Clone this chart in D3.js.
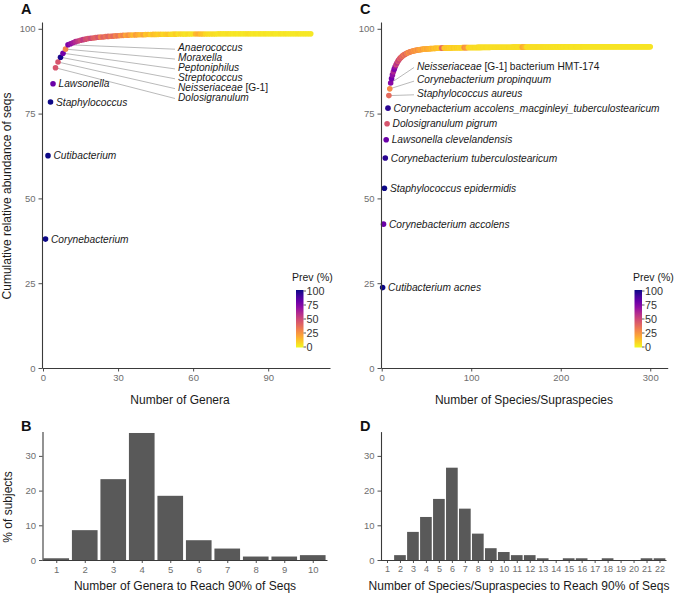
<!DOCTYPE html>
<html><head><meta charset="utf-8">
<script src="https://cdn.jsdelivr.net/npm/d3@7"></script>
<style>body{margin:0;background:#fff} svg{display:block} text{font-family:"Liberation Sans",Arial,Helvetica,sans-serif}</style>
</head><body><svg id="c" width="682" height="595"></svg>
<script>
// ---------------- DATA ----------------
const genusNames = ["Corynebacterium","Cutibacterium","Staphylococcus","Lawsonella","Dolosigranulum","Neisseriaceae [G-1]","Streptococcus","Peptoniphilus","Moraxella","Anaerococcus"];
const genusCum = [
38.0,62.6,78.4,83.8,88.5,90.2,91.6,92.8,94.0,95.3,
95.6,95.9,96.2,96.4,96.6,96.8,96.95,97.1,97.2,97.3,
97.4,97.5,97.55,97.6,97.7,97.75,97.8,97.85,97.9,97.95,
98.0,98.05,98.1,98.12,98.15,98.18,98.2,98.22,98.24,98.26,
98.28,98.3,98.32,98.34,98.35,98.36,98.37,98.38,98.39,98.4,
98.41,98.42,98.42,98.43,98.43,98.44,98.44,98.45,98.45,98.46,
98.46,98.46,98.47,98.47,98.47,98.48,98.48,98.48,98.48,98.49,
98.49,98.49,98.49,98.49,98.5,98.5,98.5,98.5,98.5,98.5,
98.5,98.5,98.5,98.5,98.5,98.5,98.5,98.5,98.5,98.5,
98.5,98.5,98.5,98.5,98.5,98.5,98.5,98.5,98.5,98.5,
98.5,98.5,98.5,98.5,98.5,98.5,98.5];
const genusPrev = [
100,100,100,80,45,45,98,78,30,75,
70,65,60,55,50,55,48,45,50,42,
40,45,32,40,35,40,33,38,30,35,
25,30,20,26,20,15,22,18,15,20,
12,15,10,14,12,10,12,8,10,12,
8,7,10,6,8,6,5,7,5,6,
15,18,14,12,8,7,6,7,6,5,
6,5,5,6,5,4,5,4,5,4,
5,6,5,4,5,4,5,4,5,4,
4,5,4,4,5,4,5,4,4,4,
4,5,4,4,4,4,4];

const speciesNames = ["Cutibacterium acnes","Corynebacterium accolens","Staphylococcus epidermidis","Corynebacterium tuberculostearicum","Lawsonella clevelandensis","Dolosigranulum pigrum","Corynebacterium accolens_macginleyi_tuberculostearicum","Staphylococcus aureus","Corynebacterium propinquum","Neisseriaceae [G-1] bacterium HMT-174"];
const speciesCum = [
23.7,42.4,53.0,61.9,67.3,72.0,76.6,80.3,82.3,84.0,
85.3,86.4,87.3,88.1,88.8,89.4,89.9,90.4,90.8,91.15,
91.45,91.7,91.95,92.15,92.35,92.5,92.65,92.8,92.92,93.03,
93.13,93.22,93.3,93.38,93.45,93.52,93.58,93.64,93.69,93.74,
93.78,93.82,93.86,93.9,93.93,93.96,93.99,94.02,94.04,94.06,
94.08,94.1,94.12,94.14,94.16,94.18,94.19,94.2,94.22,94.23,
94.24,94.25,94.26,94.27,94.28,94.29,94.3,94.31,94.32,94.33,
94.34,94.35,94.35,94.36,94.36,94.37,94.37,94.38,94.38,94.39,
94.39,94.4,94.4,94.41,94.41,94.42,94.42,94.43,94.43,94.44,
94.44,94.45,94.45,94.46,94.46,94.47,94.47,94.48,94.48,94.48,
94.49,94.49,94.49,94.5,94.5,94.5,94.51,94.51,94.51,94.51,
94.51,94.52,94.52,94.52,94.52,94.53,94.53,94.53,94.53,94.53,
94.53,94.54,94.54,94.54,94.54,94.55,94.55,94.55,94.55,94.55,
94.55,94.56,94.56,94.56,94.56,94.56,94.57,94.57,94.57,94.57,
94.57,94.57,94.57,94.57,94.57,94.58,94.58,94.58,94.58,94.58,
94.58,94.58,94.58,94.59,94.59,94.59,94.59,94.6,94.6,94.6,
94.6,94.6,94.6,94.61,94.61,94.61,94.61,94.61,94.62,94.62,
94.62,94.62,94.62,94.63,94.63,94.63,94.63,94.63,94.64,94.64,
94.64,94.64,94.64,94.65,94.65,94.65,94.65,94.65,94.65,94.65,
94.65,94.66,94.66,94.66,94.66,94.66,94.66,94.66,94.66,94.66,
94.66,94.67,94.67,94.67,94.67,94.67,94.67,94.67,94.67,94.67,
94.67,94.67,94.68,94.68,94.68,94.68,94.68,94.68,94.68,94.68,
94.68,94.68,94.68,94.68,94.69,94.69,94.69,94.69,94.69,94.69,
94.69,94.69,94.69,94.69,94.69,94.69,94.69,94.69,94.69,94.69,
94.7,94.7,94.7,94.7,94.7,94.7,94.7,94.7,94.7,94.7,
94.7,94.7,94.7,94.7,94.7,94.7,94.7,94.7,94.7,94.7,
94.7,94.7,94.7,94.7,94.7,94.7,94.7,94.7,94.7,94.7,
94.7,94.7,94.7,94.7,94.7,94.7,94.7,94.7,94.7,94.7,
94.7,94.7,94.7,94.7,94.7,94.7,94.7,94.7,94.7,94.7,
94.7,94.7,94.7,94.7,94.7,94.7,94.7,94.7,94.7,94.7];
const speciesPrev = [
100,80,100,95,80,45,95,38,28,72,
78,70,62,75,68,50,58,45,52,40,
45,42,35,42,30,38,40,30,35,25,
32,28,35,25,30,22,28,25,20,30,
22,25,18,22,20,25,18,20,15,22,
18,20,15,18,16,14,18,15,12,16,
14,12,15,12,10,14,35,40,30,12,
12,10,14,10,12,9,11,10,8,12,
10,8,9,11,8,10,7,9,8,10,
7,25,28,22,24,20,8,7,9,6,
8,6,7,8,6,7,6,8,6,7,
6,6,7,6,6,7,7,6,6,6,
6,7,6,6,6,7,6,6,7,6,
7,6,7,6,6,7,6,6,6,6,
6,7,6,6,6,6,6,7,6,6,
7,6,6,6,7,6,18,20,16,15,
12,7,6,6,7,6,6,7,6,6,
6,6,6,6,7,6,6,6,6,6,
6,6,6,5,6,6,5,6,6,5,
6,5,6,5,5,6,5,5,6,5,
5,6,5,5,5,6,5,5,5,5,
6,5,5,5,5,5,6,5,5,5,
5,5,5,5,6,5,5,5,5,5,
5,5,5,5,5,5,5,5,5,5,
5,5,5,5,5,5,5,5,5,5,
5,5,5,5,5,5,5,5,5,5,
5,5,5,5,5,5,5,5,5,5,
5,5,5,5,5,5,5,5,5,5,
5,5,5,5,5,5,5,5,5,5,
5,5,5,5,5,5,5,5,5,5];

const genusBins = [1,2,3,4,5,6,7,8,9,10];
const genusPct = [0.5,8.6,23.3,36.6,18.5,5.7,3.3,1.0,1.0,1.4];
const speciesBins = [1,2,3,4,5,6,7,8,9,10,11,12,13,14,15,16,17,18,19,20,21,22];
const speciesPct = [0,1.4,8.1,12.4,17.6,26.6,14.8,7.6,3.4,2.3,1.4,1.4,0.5,0,0.5,0.5,0,0.5,0,0,0.5,0.5];

const cumTicks = [0,25,50,75,100];
const genusTicks = [0,30,60,90];
const speciesTicks = [0,100,200,300];
const pctTicks = [0,10,20,30];
const prevTicks = [0,25,50,75,100];

// ---------------- DRAW ----------------
const svg = d3.select('#c');
const AX = '#3a3a3a', TICKTXT = '#6e6e6e';
const col = p => d3.interpolatePlasma(1 - p / 100);

const defs = svg.append('defs');
const grad = defs.append('linearGradient').attr('id','prevGrad').attr('x1',0).attr('y1',1).attr('x2',0).attr('y2',0);
d3.range(0, 101, 10).forEach(p => grad.append('stop').attr('offset', p/100).attr('stop-color', col(p)));

function styleAxis(g, fs) {
  g.select('.domain').attr('stroke', AX).attr('stroke-width', 1.1);
  g.selectAll('.tick line').attr('stroke', AX).attr('stroke-width', 0.9);
  g.selectAll('.tick text').attr('fill', TICKTXT).style('font-size', (fs||9.5) + 'px')
    .style('font-family', '"Liberation Sans",Arial,sans-serif');
}

function nameText(sel, name) {
  const i = name.indexOf(' [');
  if (i < 0) { sel.append('tspan').attr('font-style','italic').text(name); }
  else {
    sel.append('tspan').attr('font-style','italic').text(name.slice(0, i));
    sel.append('tspan').text(name.slice(i));
  }
}

function scatterPanel(o) {
  const x = d3.scaleLinear().domain(o.xDom).range(o.xRange);
  const y = d3.scaleLinear().domain([0, 102]).range([368, 22]);
  const g = svg.append('g');
  const pts = o.cum.map((v, i) => ({n: i + 1, v, p: o.prev[i]}));

  o.leaders.forEach((idx, k) => {
    const d = pts[idx - 1];
    const ly = o.leadY0 + k * o.leadDY;
    g.append('line').attr('x1', x(d.n)).attr('y1', y(d.v)).attr('x2', o.leadX - 3).attr('y2', ly + 1.5)
      .attr('stroke', '#a8a8a8').attr('stroke-width', 0.8);
  });

  g.selectAll('circle.pt').data(pts).join('circle').attr('class','pt')
    .attr('cx', d => x(d.n)).attr('cy', d => y(d.v)).attr('r', 2.8)
    .attr('fill', d => col(d.p));

  o.direct.forEach(idx => {
    const d = pts[idx - 1];
    const t = g.append('text').attr('x', x(d.n) + 5.5).attr('y', y(d.v)).attr('dy', '0.35em')
      .style('font-size', '10.2px').attr('fill', '#1a1a1a');
    nameText(t, o.names[idx - 1]);
  });
  o.leaders.forEach((idx, k) => {
    const ly = o.leadY0 + k * o.leadDY;
    const t = g.append('text').attr('x', o.leadX).attr('y', ly).attr('dy', '0.35em')
      .style('font-size', '10.2px').attr('fill', '#1a1a1a');
    nameText(t, o.names[idx - 1]);
  });

  const gx = g.append('g').attr('transform', 'translate(0,368)')
    .call(d3.axisBottom(x).tickValues(o.xTicks).tickSize(3.5).tickSizeOuter(0).tickPadding(3));
  styleAxis(gx);
  const gy = g.append('g').attr('transform', `translate(${o.xRange[0]},0)`)
    .call(d3.axisLeft(y).tickValues(cumTicks).tickSize(3.5).tickSizeOuter(0).tickPadding(3));
  styleAxis(gy);

  g.append('text').attr('x', o.titleX).attr('y', 404).attr('text-anchor','middle')
    .style('font-size','12px').attr('fill','#1a1a1a').text(o.xTitle);

  const lg = g.append('g');
  lg.append('text').attr('x', o.legX).attr('y', 281).style('font-size','10.5px').attr('fill','#1a1a1a').text('Prev (%)');
  const ly = d3.scaleLinear().domain([0,100]).range([347, 291]);
  lg.append('rect').attr('x', o.barX).attr('y', 290).attr('width', 7.5).attr('height', 57.5).attr('fill','url(#prevGrad)');
  prevTicks.forEach(p => {
    lg.append('line').attr('x1', o.barX + 7.5).attr('x2', o.barX + 10).attr('y1', ly(p)).attr('y2', ly(p))
      .attr('stroke', '#333').attr('stroke-width', 0.8);
    lg.append('text').attr('x', o.barX + 10.5).attr('y', ly(p)).attr('dy','0.35em')
      .style('font-size','10.8px').attr('fill','#333').text(p);
  });
}

scatterPanel({xDom: [-0.4, 114.7], xRange: [42, 330], cum: genusCum, prev: genusPrev, names: genusNames,
  direct: [1,2,3,4], leaders: [10,9,8,7,6,5], leadX: 178, leadY0: 47.7, leadDY: 9.86,
  xTicks: genusTicks, xTitle: 'Number of Genera', titleX: 180, legX: 292, barX: 296});
scatterPanel({xDom: [-0.8, 319.5], xRange: [381, 667.7], cum: speciesCum, prev: speciesPrev, names: speciesNames,
  direct: [1,2,3,4,5,6,7], leaders: [10,9,8], leadX: 417, leadY0: 66, leadDY: 13.65,
  xTicks: speciesTicks, xTitle: 'Number of Species/Supraspecies', titleX: 524, legX: 633, barX: 634.5});

svg.append('text').attr('transform','translate(11,196) rotate(-90)').attr('text-anchor','middle')
  .style('font-size','12px').attr('fill','#1a1a1a').text('Cumulative relative abundance of seqs');

function barPanel(o) {
  const x = d3.scaleLinear().domain([0.5, o.bins.length + 0.5]).range(o.xRange);
  const y = d3.scaleLinear().domain([0, 37]).range([560, 431.6]);
  const g = svg.append('g');
  const w = (x(2) - x(1)) * 0.9;
  g.selectAll('rect').data(o.bins.map((b, i) => ({b, v: o.vals[i]}))).join('rect')
    .attr('x', d => x(d.b) - w/2).attr('width', w)
    .attr('y', d => y(d.v)).attr('height', d => y(0) - y(d.v)).attr('fill', '#595959');
  const gx = g.append('g').attr('transform','translate(0,560)')
    .call(d3.axisBottom(x).tickValues(o.bins).tickFormat(d3.format('d')).tickSize(3).tickSizeOuter(0).tickPadding(3));
  styleAxis(gx, o.fs);
  const gy = g.append('g').attr('transform', `translate(${o.xRange[0] + 0.5},0)`)
    .call(d3.axisLeft(y).tickValues(pctTicks).tickSize(3.5).tickSizeOuter(0).tickPadding(3));
  styleAxis(gy);
  g.append('text').attr('x', o.titleX).attr('y', 590).attr('text-anchor','middle')
    .style('font-size','12px').attr('fill','#1a1a1a').text(o.xTitle);
}
barPanel({bins: genusBins, vals: genusPct, xRange: [42, 327], xTitle: 'Number of Genera to Reach 90% of Seqs', titleX: 185, fs: 9.5});
barPanel({bins: speciesBins, vals: speciesPct, xRange: [380.5, 666], xTitle: 'Number of Species/Supraspecies to Reach 90% of Seqs', titleX: 519, fs: 9});

svg.append('text').attr('transform','translate(12,507) rotate(-90)').attr('text-anchor','middle')
  .style('font-size','12px').attr('fill','#1a1a1a').text('% of subjects');

[['A',21,14],['C',360,14],['B',21,431],['D',360,431]].forEach(([t,x,y]) =>
  svg.append('text').attr('x',x).attr('y',y).style('font-size','14.5px').style('font-weight','bold').attr('fill','#111').text(t));
</script></body></html>
